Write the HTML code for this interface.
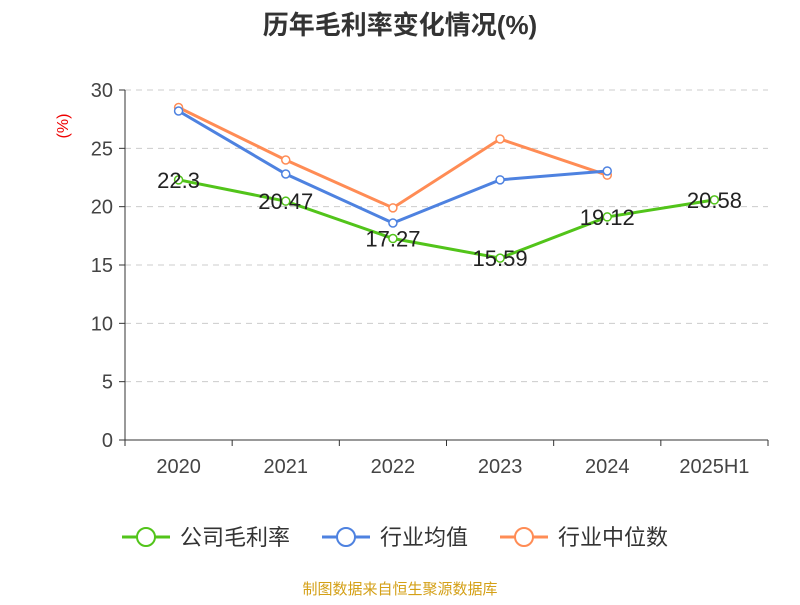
<!DOCTYPE html>
<html><head><meta charset="utf-8"><style>
body{margin:0;background:#fff;width:800px;height:600px;overflow:hidden;font-family:"Liberation Sans","Noto Sans CJK SC",sans-serif}
</style></head><body>
<svg id="c" width="800" height="600" xmlns="http://www.w3.org/2000/svg">
<text x="400" y="34" text-anchor="middle" font-size="26" font-weight="bold" fill="#333" font-family="Liberation Sans,Noto Sans CJK SC,sans-serif">历年毛利率变化情况(%)</text>
<text x="68" y="126" transform="rotate(-90 68 126)" text-anchor="middle" font-size="16" fill="#e00">(%)</text>
<g id="grid"></g><g id="axes"></g><g id="series"></g>
<g>
<g><line x1="122" y1="537" x2="170" y2="537" stroke="#52c41a" stroke-width="3"/><circle cx="146" cy="537" r="9" fill="#fff" stroke="#52c41a" stroke-width="2"/><text x="180" y="545" font-size="22" fill="#333">公司毛利率</text></g>
<g><line x1="322" y1="537" x2="370" y2="537" stroke="#4e82e0" stroke-width="3"/><circle cx="346" cy="537" r="9" fill="#fff" stroke="#4e82e0" stroke-width="2"/><text x="380" y="545" font-size="22" fill="#333">行业均值</text></g>
<g><line x1="500" y1="537" x2="548" y2="537" stroke="#ff8c55" stroke-width="3"/><circle cx="524" cy="537" r="9" fill="#fff" stroke="#ff8c55" stroke-width="2"/><text x="558" y="545" font-size="22" fill="#333">行业中位数</text></g>
</g>
<text x="400" y="594" text-anchor="middle" font-size="15" fill="#d4a017">制图数据来自恒生聚源数据库</text>
</svg>
<script>
const categories=["2020","2021","2022","2023","2024","2025H1"];
const company=[22.3,20.47,17.27,15.59,19.12,20.58];
const industryAvg=[28.2,22.8,18.6,22.3,23.06,null];
const industryMedian=[28.5,24.0,19.9,25.8,22.7,null];
const yTicks=[0,5,10,15,20,25,30];
const NS="http://www.w3.org/2000/svg";
const x0=125,x1=768,yb=440,yt=90;
const bw=(x1-x0)/categories.length;
const X=i=>x0+bw*(i+0.5);
const Y=v=>yb-(v/30)*(yb-yt);
function mk(t,a,p){const e=document.createElementNS(NS,t);for(const k in a)e.setAttribute(k,a[k]);p.appendChild(e);return e;}
const grid=document.getElementById('grid'),axes=document.getElementById('axes'),ser=document.getElementById('series');
yTicks.forEach(v=>{
 if(v>0){const l=mk('line',{x1:x0,x2:x1,y1:Y(v),y2:Y(v),stroke:'#ccc','stroke-dasharray':'6,5'},grid);
 
 }
 mk('line',{x1:x0-6,x2:x0,y1:Y(v),y2:Y(v),stroke:'#333'},axes);
 const t=mk('text',{x:x0-12,y:Y(v)+7,'text-anchor':'end','font-size':20,fill:'#444'},axes);t.textContent=v;
 
 
});
mk('line',{x1:x0,x2:x0,y1:yt,y2:yb,stroke:'#333'},axes);
mk('line',{x1:x0,x2:x1,y1:yb,y2:yb,stroke:'#333'},axes);
for(let i=0;i<=categories.length;i++)mk('line',{x1:x0+bw*i,x2:x0+bw*i,y1:yb,y2:yb+6,stroke:'#333'},axes);
categories.forEach((c,i)=>{const t=mk('text',{x:X(i),y:yb+33,'text-anchor':'middle','font-size':20,fill:'#444'},axes);t.textContent=c;
 
 });
function draw(arr,color,name,labels){
 const g=mk('g',{},ser);
 
 
 const pts=arr.map((v,i)=>v==null?null:[X(i),Y(v)]).filter(p=>p);
 mk('polyline',{points:pts.map(p=>p.join(',')).join(' '),fill:'none',stroke:color,'stroke-width':3},g);
 arr.forEach((v,i)=>{if(v==null)return;
  const c=mk('circle',{cx:X(i),cy:Y(v),r:4,fill:'#fff',stroke:color,'stroke-width':1.5},g);
  
  
  if(labels){const t=mk('text',{x:X(i),y:Y(v)+8,'text-anchor':'middle','font-size':22,fill:'#222'},g);t.textContent=v;
   
   }
 });
}
draw(industryMedian,'#ff8c55','industry-median-line',false);
draw(industryAvg,'#4e82e0','industry-avg-line',false);
draw(company,'#52c41a','gross-margin-line',true);
</script>
</body></html>
